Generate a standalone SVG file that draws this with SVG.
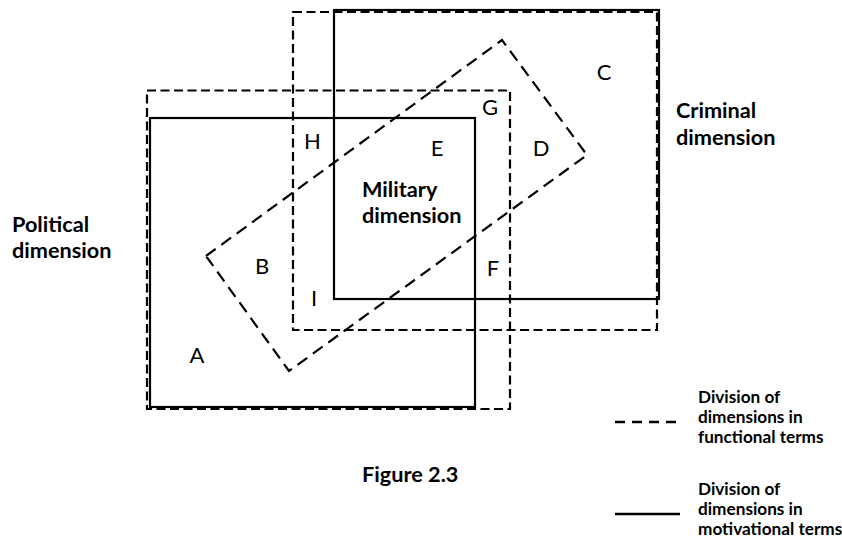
<svg xmlns="http://www.w3.org/2000/svg" width="842" height="542" viewBox="0 0 842 542">
<style>
.bg{fill:#fff}
.sol{fill:none;stroke:#000;stroke-width:2.2}
.dsh{fill:none;stroke:#000;stroke-width:2.2;stroke-dasharray:9,4.5}
.rot{fill:none;stroke:#000;stroke-width:2.2;stroke-dasharray:12,7}
.lt{font-family:Lato,"Liberation Sans",sans-serif;font-size:22px;fill:#000;text-anchor:middle}
.bd{font-family:Lato,"Liberation Sans",sans-serif;font-size:21.7px;font-weight:bold;fill:#000}
.lg{font-family:Lato,"Liberation Sans",sans-serif;font-size:17.2px;font-weight:bold;fill:#000}
</style>
<rect class="bg" x="0" y="0" width="842" height="542"/>
<g id="connectors">
  <g id="criminal-functional"><rect class="dsh" x="293" y="12" width="364" height="318"/></g>
  <g id="criminal-motivational"><rect class="sol" x="334" y="10" width="325" height="289"/></g>
  <g id="political-functional"><rect class="dsh" x="147" y="90.5" width="363" height="318.5"/></g>
  <g id="political-motivational"><rect class="sol" x="150" y="118" width="325" height="289"/></g>
  <g id="military-functional"><polygon class="rot" points="206,256 502,40 587,155 289,371"/></g>
</g>
<g id="letters">
  <text class="lt" x="312.5" y="149">H</text>
  <text class="lt" x="437" y="156">E</text>
  <text class="lt" x="490" y="115">G</text>
  <text class="lt" x="604" y="80">C</text>
  <text class="lt" x="541" y="156">D</text>
  <text class="lt" x="262" y="274">B</text>
  <text class="lt" x="314" y="306">I</text>
  <text class="lt" x="493" y="276">F</text>
  <text class="lt" x="197" y="363">A</text>
</g>
<g id="military-label"><text class="bd" x="362" y="197">Military</text><text class="bd" x="362" y="223">dimension</text></g>
<g id="criminal-label"><text class="bd" x="676" y="118">Criminal</text><text class="bd" x="676" y="145">dimension</text></g>
<g id="political-label"><text class="bd" x="12" y="232">Political</text><text class="bd" x="12" y="258">dimension</text></g>
<g id="caption"><text class="bd" x="362" y="482">Figure 2.3</text></g>
<g id="legend">
  <line x1="615" y1="422" x2="676" y2="422" stroke="#000" stroke-width="2.5" stroke-dasharray="10,7"/>
  <text class="lg" x="698" y="403">Division of</text>
  <text class="lg" x="698" y="423">dimensions in</text>
  <text class="lg" x="698" y="443">functional terms</text>
  <line x1="615" y1="514" x2="680" y2="514" stroke="#000" stroke-width="2.5"/>
  <text class="lg" x="698" y="495">Division of</text>
  <text class="lg" x="698" y="515">dimensions in</text>
  <text class="lg" x="698" y="535">motivational terms</text>
</g>
</svg>
